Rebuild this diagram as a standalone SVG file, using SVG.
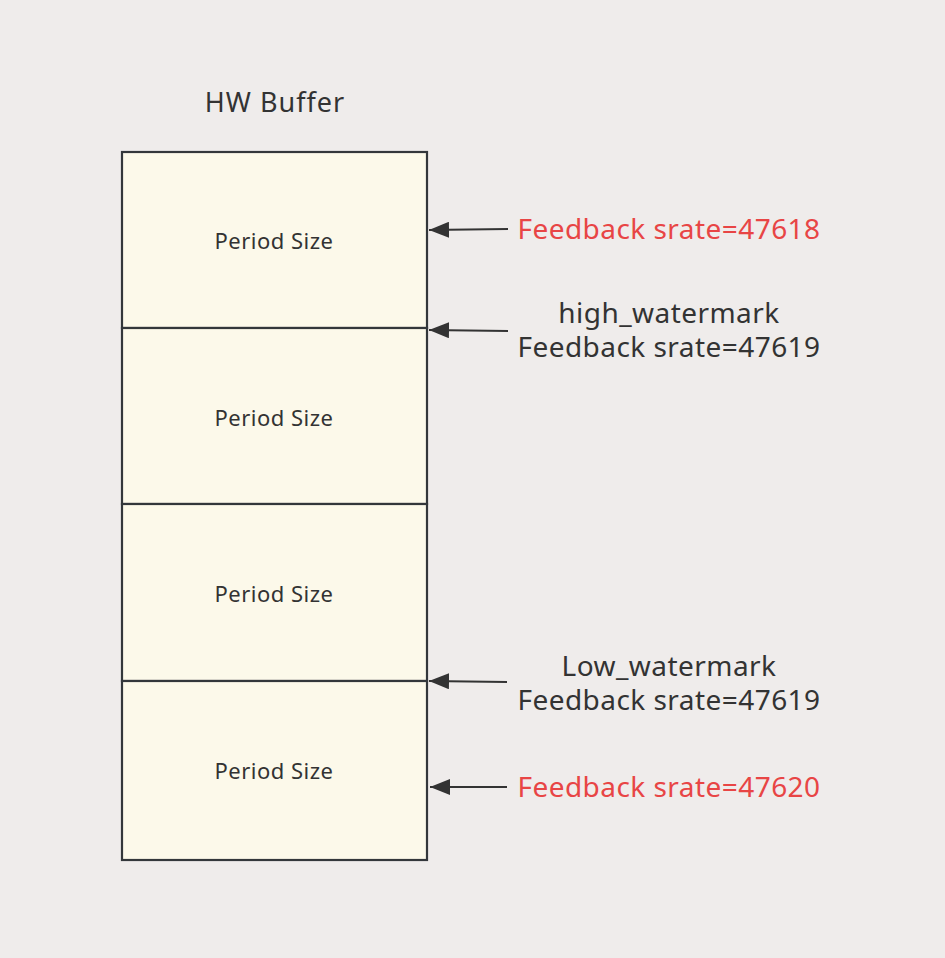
<svg xmlns="http://www.w3.org/2000/svg" width="945" height="958" viewBox="0 0 945 958">
<style>
.cell{fill:#fcf9ea;stroke:#33373b;stroke-width:2.2}
.t{font-family:"Noto Sans","Open Sans",sans-serif;fill:#333;text-anchor:middle}
.ps{font-size:22px;letter-spacing:0.5px}
.lbl{font-size:28px;letter-spacing:0.45px}
.red{fill:#e84545}
.conn{stroke:#333;stroke-width:2;fill:none}
</style>
<defs>
<marker id="ah" markerWidth="20" markerHeight="16" refX="20" refY="8" orient="auto" markerUnits="userSpaceOnUse">
<path d="M0,0 L20,8 L0,16 z" fill="#333"/>
</marker>
</defs>
<rect width="945" height="958" fill="#efeceb"/>
<text class="t" x="275" y="112" style="font-size:27px;letter-spacing:1px">HW Buffer</text>
<g id="cell1"><rect class="cell" x="122" y="152" width="305" height="176"/><text class="t ps" x="274" y="249">Period Size</text></g>
<g id="cell2"><rect class="cell" x="122" y="328" width="305" height="176"/><text class="t ps" x="274" y="426">Period Size</text></g>
<g id="cell3"><rect class="cell" x="122" y="504" width="305" height="177"/><text class="t ps" x="274" y="602">Period Size</text></g>
<g id="cell4"><rect class="cell" x="122" y="681" width="305" height="179"/><text class="t ps" x="274" y="779">Period Size</text></g>
<g id="labels">
<text class="t lbl red" x="669" y="239">Feedback srate=47618</text>
<text class="t lbl" x="669" y="323">high_watermark</text>
<text class="t lbl" x="669" y="357">Feedback srate=47619</text>
<text class="t lbl" x="669" y="676">Low_watermark</text>
<text class="t lbl" x="669" y="710">Feedback srate=47619</text>
<text class="t lbl red" x="669" y="797">Feedback srate=47620</text>
</g>
<g id="connectors">
<line class="conn" x1="508" y1="229" x2="429" y2="230" marker-end="url(#ah)"/>
<line class="conn" x1="508" y1="331" x2="429" y2="330" marker-end="url(#ah)"/>
<line class="conn" x1="507" y1="682" x2="429" y2="681" marker-end="url(#ah)"/>
<line class="conn" x1="507" y1="787" x2="430" y2="787" marker-end="url(#ah)"/>
</g>
</svg>
